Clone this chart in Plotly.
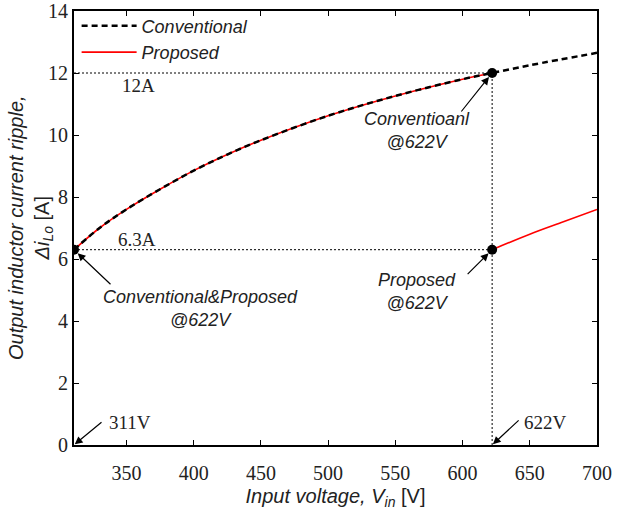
import plotly.graph_objects as go

# ---- data ----
vin_conv = [311, 330, 350, 375, 400, 425, 450, 500, 550, 600, 622, 650, 700]
ripple_conv = [6.3, 7.0, 7.6, 8.25, 8.85, 9.37, 9.83, 10.62, 11.26, 11.8, 12.0, 12.25, 12.65]

# proposed: follows the conventional curve up to 622 V, then drops
vin_prop_low = [311, 330, 350, 375, 400, 425, 450, 500, 550, 600, 622]
ripple_prop_low = [6.3, 7.0, 7.6, 8.25, 8.85, 9.37, 9.83, 10.62, 11.26, 11.8, 12.0]
vin_prop_high = [622, 650, 675, 700]
ripple_prop_high = [6.3, 6.8, 7.2, 7.6]

key_vin = [311, 622]
key_low = 6.3
key_high = 12.0
marker_x = [311, 622, 622]
marker_y = [6.3, 12.0, 6.3]

x_ticks = [350, 400, 450, 500, 550, 600, 650, 700]
y_ticks = [0, 2, 4, 6, 8, 10, 12, 14]

SERIF = "Liberation Serif, Times New Roman, serif"
SANS = "Liberation Sans, Arial, sans-serif"
TXT = "#222222"

fig = go.Figure()

# reference dotted guides
for gx, gy in [([key_vin[0], key_vin[1]], [key_high, key_high]),
               ([key_vin[0], key_vin[1]], [key_low, key_low]),
               ([key_vin[1], key_vin[1]], [0, key_high])]:
    fig.add_trace(go.Scatter(x=gx, y=gy, mode="lines",
                             line=dict(color="black", width=1, dash="2px,2px"),
                             showlegend=False, hoverinfo="skip"))

# proposed (red) drawn under the conventional dashes
fig.add_trace(go.Scatter(x=vin_prop_low, y=ripple_prop_low, mode="lines", name="<i>Proposed</i>",
                         line=dict(color="red", width=1.6, shape="spline"), legendrank=2))
fig.add_trace(go.Scatter(x=vin_prop_high, y=ripple_prop_high, mode="lines", name="<i>Proposed</i>",
                         line=dict(color="red", width=1.6, shape="spline"), showlegend=False))
fig.add_trace(go.Scatter(x=vin_conv, y=ripple_conv, mode="lines", name="<i>Conventional</i>",
                         line=dict(color="black", width=2.5, dash="6px,4px", shape="spline"),
                         legendrank=1))

fig.add_trace(go.Scatter(x=marker_x, y=marker_y, mode="markers",
                         marker=dict(color="black", size=10), showlegend=False, hoverinfo="skip"))

# text annotations
def txt(x, y, text, font, size=18):
    fig.add_annotation(x=x, y=y, xref="x", yref="y", text=text, showarrow=False,
                       font=dict(family=font, size=size, color=TXT), align="center")

txt(405, 4.39, "<i>Conventional&amp;Proposed</i><br><i>@622V</i>", SANS)
txt(566, 10.13, "<i>Conventioanl</i><br><i>@622V</i>", SANS)
txt(566, 4.94, "<i>Proposed</i><br><i>@622V</i>", SANS)
txt(353, 0.74, "311V", SERIF, 19)
txt(662, 0.74, "622V", SERIF, 19)
txt(359, 11.6, "12A", SERIF, 19)
txt(358, 6.63, "6.3A", SERIF, 19)

# y-axis title as rotated annotation
fig.add_annotation(x=-0.0841, y=0.5, xref="paper", yref="paper", showarrow=False,
                   text="<i>Output inductor current ripple,</i><br><i>Δi<sub>Lo</sub></i> [A]",
                   textangle=-90, xanchor="center", yanchor="middle", align="center",
                   font=dict(family=SANS, size=20, color=TXT))

# arrows
def arrow(x, y, ax, ay, standoff=5):
    fig.add_annotation(x=x, y=y, xref="x", yref="y", text="", showarrow=True, ax=ax, ay=ay,
                       arrowhead=2, arrowsize=1.3, arrowwidth=1.2, arrowcolor="black", standoff=standoff)

arrow(311, 6.3, 38, 36)
arrow(622, 12.0, -32, 40)
arrow(622, 6.3, -26, 26)
arrow(311, 0, 29, -24, 1)
arrow(622, 0, 28, -26, 1)

fig.update_layout(
    width=624, height=516,
    margin=dict(l=74, r=27, t=11, b=71, autoexpand=False),
    paper_bgcolor="white", plot_bgcolor="white",
    font=dict(family=SERIF, size=20, color=TXT),
    legend=dict(x=0.005, y=1.008, xanchor="left", yanchor="top", bgcolor="rgba(0,0,0,0)",
                font=dict(family=SANS, size=18, color=TXT), traceorder="normal",
                tracegroupgap=0, itemwidth=55),
    showlegend=True,
)
fig.update_xaxes(range=[311, 700], tickvals=x_ticks, ticks="inside", ticklen=5, tickcolor="black",
                 showline=True, linecolor="black", linewidth=1.5, mirror="ticks", showgrid=False,
                 zeroline=False, ticklabelstandoff=9, ticklabeloverflow="allow",
                 tickfont=dict(family=SERIF, size=20, color=TXT),
                 title=dict(text="<i>Input voltage, V<sub>in</sub></i> [V]",
                            font=dict(family=SANS, size=20, color=TXT), standoff=6))
fig.update_yaxes(range=[0, 14], tickvals=y_ticks, ticks="inside", ticklen=5, tickcolor="black",
                 showline=True, linecolor="black", linewidth=1.8, mirror="ticks", showgrid=False,
                 zeroline=False, ticklabelstandoff=0, ticklabeloverflow="allow",
                 tickfont=dict(family=SERIF, size=20, color=TXT))

fig.write_html("out.html")
